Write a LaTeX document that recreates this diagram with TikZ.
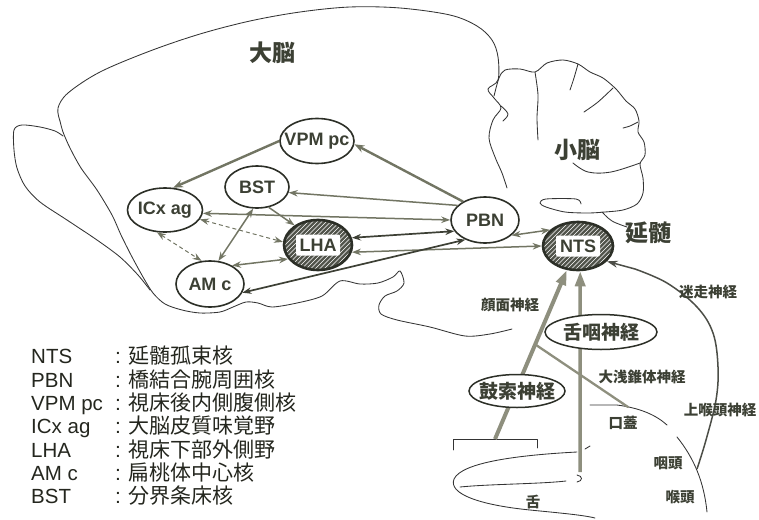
\documentclass[tikz,border=0pt]{standalone}
\usepackage{fontspec}
\setmainfont{Liberation Sans}
\setsansfont{Liberation Sans}
\newfontfamily\jp{Noto Sans CJK JP}
\usetikzlibrary{shapes.geometric,arrows.meta,calc}

\definecolor{ink}{HTML}{2C2F27}
\definecolor{labelc}{HTML}{3C4034}
\definecolor{legendc}{HTML}{24261E}
\definecolor{linkc}{HTML}{727563}
\definecolor{darklink}{HTML}{3D4035}
\definecolor{nervec}{HTML}{8E8F7E}
\definecolor{hatchc}{HTML}{50534A}
\definecolor{outlinec}{HTML}{343434}

\tikzset{
  outline/.style={draw=outlinec, line width=0.85pt, line join=round, line cap=round},
  nucleus/.style={ellipse, draw=ink, line width=1.6pt, fill=white, inner sep=0pt,
    font=\fontsize{18}{20}\selectfont\bfseries, text=labelc},
  hatched/.style={nucleus, fill=hatchc, line width=2.6pt,
    path picture={\foreach \k in {-100,-95.5,...,60}
      \draw[white, line width=0.65pt] ([xshift=\k pt, yshift=-40pt]path picture bounding box.center) -- ++(80pt,80pt);}},
  hatchlabel/.style={fill=white, inner sep=0pt, minimum width=44pt, minimum height=21pt,
    rounded corners=2pt, font=\fontsize{18}{20}\selectfont\bfseries, text=labelc},
  nerveoval/.style={ellipse, draw=ink, line width=1.5pt, fill=white, inner sep=0pt,
    font=\jp\fontsize{19}{21}\selectfont\bfseries, text=labelc},
  region/.style={font=\jp\fontsize{23}{25}\selectfont\bfseries, text=labelc, inner sep=0pt},
  nervelabel/.style={font=\jp\fontsize{14.5}{16}\selectfont\bfseries, text=labelc, inner sep=0pt},
  legab/.style={anchor=base west, inner sep=0pt, font=\fontsize{20.5}{22}\selectfont, text=legendc},
  legdef/.style={anchor=base west, inner sep=0pt, font=\fontsize{21}{22}\selectfont, text=legendc},
  link/.style={draw=linkc, line width=1.5pt, -{Stealth[length=9pt,width=6.5pt]}},
  linkboth/.style={link, {Stealth[length=9pt,width=6.5pt]}-{Stealth[length=9pt,width=6.5pt]}},
  heavylink/.style={link, line width=2.4pt, -{Stealth[length=10pt,width=7.5pt]}},
  darkboth/.style={linkboth, draw=darklink, line width=1.7pt},
  dashboth/.style={linkboth, line width=1pt, dash pattern=on 4pt off 3pt},
  nerve/.style={draw=nervec, line width=4pt, -{Triangle[length=15pt,width=10pt]}},
  thinnerve/.style={draw=nervec, line width=2.3pt, line cap=round},
  vagus/.style={draw=ink!85, line width=1.5pt, -{Stealth[length=11pt,width=7pt]}}
}

\begin{document}
\begin{tikzpicture}[x=1pt, y=-1pt]
\useasboundingbox (0,0) rectangle (759,519);

% ---- brain outline ----
% cerebrum: dorsal and caudal edge
\draw[outline] plot[smooth, tension=0.55] coordinates {
  (60,121) (58,108) (68,93) (100,72) (150,51) (200,34) (250,21) (300,12) (350,7)
  (400,8) (450,15) (477,26) (492,40) (498,57) (498,80) (488,89) (494,98) (501,108)
  (493,120) (489,138) (495,157) (502,173) (507,188)};
% frontal and ventral edge down to the brainstem
\draw[outline] plot[smooth, tension=0.5] coordinates {
  (60,121) (63,132) (70,148) (81,168) (97,190) (112,215) (121,235) (131,255)
  (143,277) (153,293) (165,304) (182,310) (200,313) (220,312) (233,307) (246,302)
  (258,303) (272,307) (297,303) (322,296) (340,281) (360,284) (378,283) (393,277)
  (400,271) (404,283) (397,291) (385,296) (379,305) (381,314) (397,320) (430,327)
  (465,336) (490,334) (512,329)};
% olfactory bulb
\draw[outline] plot[smooth, tension=0.5] coordinates {
  (63,136) (55,131) (40,127) (22,125) (14,130) (14,150) (17,168) (25,186) (40,202)
  (67,220) (97,240) (120,257) (138,275) (150,290)};
% cerebellum
\draw[outline] plot[smooth, tension=0.5] coordinates {
  (494,96) (499,78) (505,70) (520,69) (535,72) (547,63) (563,60) (578,64) (590,72)
  (603,78) (616,89) (626,101) (635,109) (639,121) (638,132) (644,142) (645,155)
  (640,164) (643,178) (643,193) (637,204) (623,210) (605,212) (588,213) (565,212)
  (546,207) (540,203) (546,199) (576,199) (581,204)};
\draw[outline] plot[smooth, tension=0.5] coordinates {(535,72) (538,95) (537,118) (538,140)};
\draw[outline] plot[smooth, tension=0.5] coordinates {(578,64) (574,78) (570,90)};
\draw[outline] plot[smooth, tension=0.5] coordinates {(613,88) (598,102) (584,112)};
\draw[outline] plot[smooth, tension=0.5] coordinates {(638,122) (630,126) (623,128)};
\draw[outline] plot[smooth, tension=0.6] coordinates {(573,163) (588,172) (611,172) (640,163)};
\draw[outline] plot[smooth, tension=0.6] coordinates {(501,106) (508,114) (503,121)};
% medulla
\draw[outline] plot[smooth, tension=0.6] coordinates {(602,212) (612,221) (627,227)};

% ---- oral cavity ----
\draw[outline] (453,450) -- (453,439) -- (537,439) -- (537,448);
\draw[outline] (577,452) .. controls (520,455) and (462,462) .. (454,479)
  .. controls (448,494) and (480,505) .. (530,510) .. controls (560,513) and (583,515) .. (595,518);
\draw[outline] (460,487) .. controls (490,484) and (540,484) .. (566,481);
\draw[outline] (585,449) -- (590,446);
\draw[outline] (577,475) .. controls (583,476) and (583,481) .. (577,482);
\draw[outline] (590,405) -- (617,405) .. controls (640,408) and (656,415) .. (667,425);
\draw[outline] (677,437) .. controls (694,458) and (704,482) .. (707,512);

% ---- nuclei ----
\node[nucleus, minimum width=74pt, minimum height=45pt] (vpm) at (317,141) {\makebox[0pt]{VPM pc}};
\node[nucleus, minimum width=64pt, minimum height=42pt] (bst) at (257,187) {\makebox[0pt]{BST}};
\node[nucleus, minimum width=75pt, minimum height=44pt] (icx) at (165,210) {\makebox[0pt]{ICx ag}};
\node[nucleus, minimum width=68pt, minimum height=46pt] (amc) at (210,284) {\makebox[0pt]{AM c}};
\node[nucleus, minimum width=68pt, minimum height=46pt] (pbn) at (485,220) {\makebox[0pt]{PBN}};
\node[hatched, minimum width=68pt, minimum height=50pt] (lha) at (318,245) {};
\node[hatchlabel] (lhatext) at (lha) {LHA};
\node[hatched, minimum width=70pt, minimum height=48pt] (nts) at (578,246) {};
\node[hatchlabel] (ntstext) at (nts) {NTS};

% ---- connections ----
\draw[heavylink] (vpm.west) -- (icx.70);
\draw[heavylink] (pbn.140) -- (vpm.-5);
\draw[link] (pbn.152) -- (bst.-10);
\draw[linkboth] (pbn.180) -- (icx.-5);
\draw[darkboth] (lha.12) -- (pbn.200);
\draw[linkboth] (lha.-12) -- (nts.180);
\draw[darkboth] (amc.-15) -- (pbn.225);
\draw[linkboth] (pbn.-30) -- (nts.150);
\draw[link] (bst.-60) -- (lha.140);
\draw[linkboth] (bst.-100) -- (amc.70);
\draw[linkboth] (amc.40) -- (lha.205);
\draw[dashboth] (icx.-110) -- (amc.110);
\draw[dashboth] (icx.-15) -- (lha.175);

% ---- gustatory nerves ----
\coordinate (ct) at (495,439);
\coordinate (gpx) at (580,472);
\coordinate (vgx) at (697,469);
\coordinate (palate) at (628,407);
\coordinate (gsp) at ($(ct)!0.56!(nts.-115)$);
\draw[nerve] (ct) -- (nts.-115);
\draw[thinnerve] (gsp) -- (palate);
\draw[nerve, line width=3.5pt] (gpx) -- (nts.-85);
\draw[vagus] plot[smooth, tension=0.6] coordinates {
  (697,469) (706,440) (716,400) (718,367) (713,333) (697,307) (667,283) (635,269)} -- (nts.-28);

\node[nerveoval, minimum width=112pt, minimum height=35pt] (gpn) at (601,332) {\makebox[0pt]{舌咽神経}};
\node[nerveoval, minimum width=96pt, minimum height=33pt] (ctn) at (517,391) {\makebox[0pt]{鼓索神経}};

% ---- region and nerve labels ----
\node[region] (cerebrum) at (272,53) {大脳};
\node[region] (cerebellum) at (577,150) {小脳};
\node[region] (medulla) at (648,233) {延髄};
\node[nervelabel] (facial) at (510,305) {顔面神経};
\node[nervelabel] (vagal) at (708,292) {迷走神経};
\node[nervelabel] (gspn) at (642,377) {大浅錐体神経};
\node[nervelabel] (slaryn) at (720,410) {上喉頭神経};
\node[nervelabel] (palatel) at (623,423) {口蓋};
\node[nervelabel] (pharynx) at (668,463) {咽頭};
\node[nervelabel] (larynx) at (680,497) {喉頭};
\node[nervelabel] (tongue) at (533,502) {舌};

% ---- legend ----
\node[legab] (ab1) at (31,363) {NTS};
\node[legab] (ab2) at (31,387) {PBN};
\node[legab] (ab3) at (31,410) {VPM pc};
\node[legab] (ab4) at (31,433) {ICx ag};
\node[legab] (ab5) at (31,457) {LHA};
\node[legab] (ab6) at (31,480) {AM c};
\node[legab] (ab7) at (31,503) {BST};
\node[legdef] (df1) at (115,363) {: \jp 延髄孤束核};
\node[legdef] (df2) at (115,387) {: \jp 橋結合腕周囲核};
\node[legdef] (df3) at (115,410) {: \jp 視床後内側腹側核};
\node[legdef] (df4) at (115,433) {: \jp 大脳皮質味覚野};
\node[legdef] (df5) at (115,457) {: \jp 視床下部外側野};
\node[legdef] (df6) at (115,480) {: \jp 扁桃体中心核};
\node[legdef] (df7) at (115,503) {: \jp 分界条床核};
\end{tikzpicture}
\end{document}
